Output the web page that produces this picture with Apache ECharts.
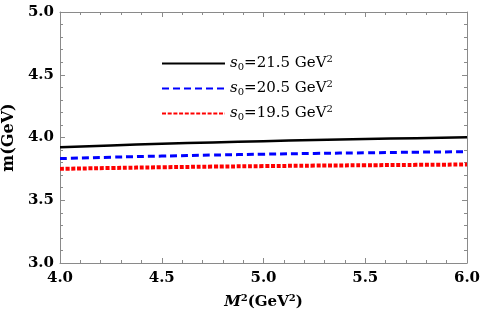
<!DOCTYPE html>
<html><head><meta charset="utf-8">
<script src="https://cdn.jsdelivr.net/npm/echarts@6/dist/echarts.min.js"></script>
<style>html,body{margin:0;padding:0;background:#fff}#c{width:480px;height:323px}</style>
</head><body><div id="c"></div>
<script>
const xValues = [4.0, 4.25, 4.5, 4.75, 5.0, 5.25, 5.5, 5.75, 6.0];
const s215 = [3.922, 3.937, 3.950, 3.961, 3.971, 3.980, 3.988, 3.995, 4.002];
const s205 = [3.832, 3.843, 3.852, 3.860, 3.867, 3.873, 3.878, 3.883, 3.887];
const s195 = [3.750, 3.757, 3.763, 3.768, 3.772, 3.776, 3.779, 3.782, 3.785];
const seriesNames = ['s0=21.5', 's0=20.5', 's0=19.5'];
const legendValues = ['21.5', '20.5', '19.5'];
const xTicks = [4.0, 4.5, 5.0, 5.5, 6.0];
const yTicks = [3.0, 3.5, 4.0, 4.5, 5.0];

const F = 'DejaVu Serif';
const chart = echarts.init(document.getElementById('c'));
const pair = arr => xValues.map((x, i) => [x, arr[i]]);
const axisCol = '#8a8a8a';
const baseX = {
  type: 'value', min: 4, max: 6, interval: 0.5,
  axisLine: {show: true, onZero: false, lineStyle: {color: axisCol, width: 1}},
  axisTick: {show: true, inside: true, length: 5, lineStyle: {color: axisCol}},
  minorTick: {show: true, splitNumber: 5, length: 3, lineStyle: {color: axisCol}},
  splitLine: {show: false}
};
const baseY = {
  type: 'value', min: 3, max: 5, interval: 0.5,
  axisLine: {show: true, onZero: false, lineStyle: {color: axisCol, width: 1}},
  axisTick: {show: true, inside: true, length: 5, lineStyle: {color: axisCol}},
  minorTick: {show: true, splitNumber: 5, length: 3, lineStyle: {color: axisCol}},
  splitLine: {show: false}
};
chart.setOption({
  animation: false,
  grid: {left: 60, right: 13, top: 12, bottom: 60, containLabel: false, outerBoundsMode: 'none'},
  legend: {
    orient: 'vertical', left: 156, top: 49, itemWidth: 63, itemHeight: 14, itemGap: 7,
    data: seriesNames,
    itemStyle: {opacity: 0},
    formatter: name => {
      const v = legendValues[seriesNames.indexOf(name)];
      return '{i|s}{sub|0}{t|=' + v + ' GeV}{sup|2}';
    },
    textStyle: {
      fontFamily: F, fontSize: 15, color: '#000',
      rich: {
        i: {fontFamily: F, fontSize: 15, fontStyle: 'italic', color: '#000'},
        sub: {fontFamily: F, fontSize: 10, color: '#000', padding: [7,0,0,0]},
        t: {fontFamily: F, fontSize: 15, color: '#000'},
        sup: {fontFamily: F, fontSize: 10, color: '#000', padding: [0,0,9,0]}
      }
    }
  },
  xAxis: [
    Object.assign({}, baseX, {
      position: 'bottom',
      axisLabel: {fontFamily: F, fontSize: 15, fontWeight: 'bold', color: '#000', margin: 8,
        formatter: v => v.toFixed(1)},
      name: '{i|M}{sup|2}{b|(GeV}{sup|2}{b|)}', nameLocation: 'middle', nameGap: 30,
      nameTextStyle: {
        rich: {
          i: {fontFamily: F, fontSize: 15, fontStyle: 'italic', fontWeight: 'bold', color: '#000'},
          b: {fontFamily: F, fontSize: 15, fontWeight: 'bold', color: '#000'},
          sup: {fontFamily: F, fontSize: 10, fontWeight: 'bold', color: '#000', padding: [0,0,9,0]}
        }
      }
    }),
    Object.assign({}, baseX, {position: 'top', axisLabel: {show: false}})
  ],
  yAxis: [
    Object.assign({}, baseY, {
      position: 'left',
      axisLabel: {fontFamily: F, fontSize: 15, fontWeight: 'bold', color: '#000', margin: 6,
        formatter: v => v.toFixed(1)},
      name: 'm(GeV)', nameLocation: 'middle', nameGap: 35,
      nameTextStyle: {fontFamily: F, fontSize: 16, fontWeight: 'bold', color: '#000'}
    }),
    Object.assign({}, baseY, {position: 'right', axisLabel: {show: false}})
  ],
  series: [
    {name: seriesNames[0], type: 'line', smooth: true, symbol: 'none', data: pair(s215),
      lineStyle: {color: '#000', width: 2.5}, itemStyle: {color: '#000'}},
    {name: seriesNames[1], type: 'line', smooth: true, symbol: 'none', data: pair(s205),
      lineStyle: {color: '#0000ff', width: 3, type: [7, 4]}, itemStyle: {color: '#0000ff'}},
    {name: seriesNames[2], type: 'line', smooth: true, symbol: 'none', data: pair(s195),
      lineStyle: {color: '#ff0000', width: 4, type: [4, 1.7]}, itemStyle: {color: '#ff0000'}}
  ]
});
</script>
</body></html>
